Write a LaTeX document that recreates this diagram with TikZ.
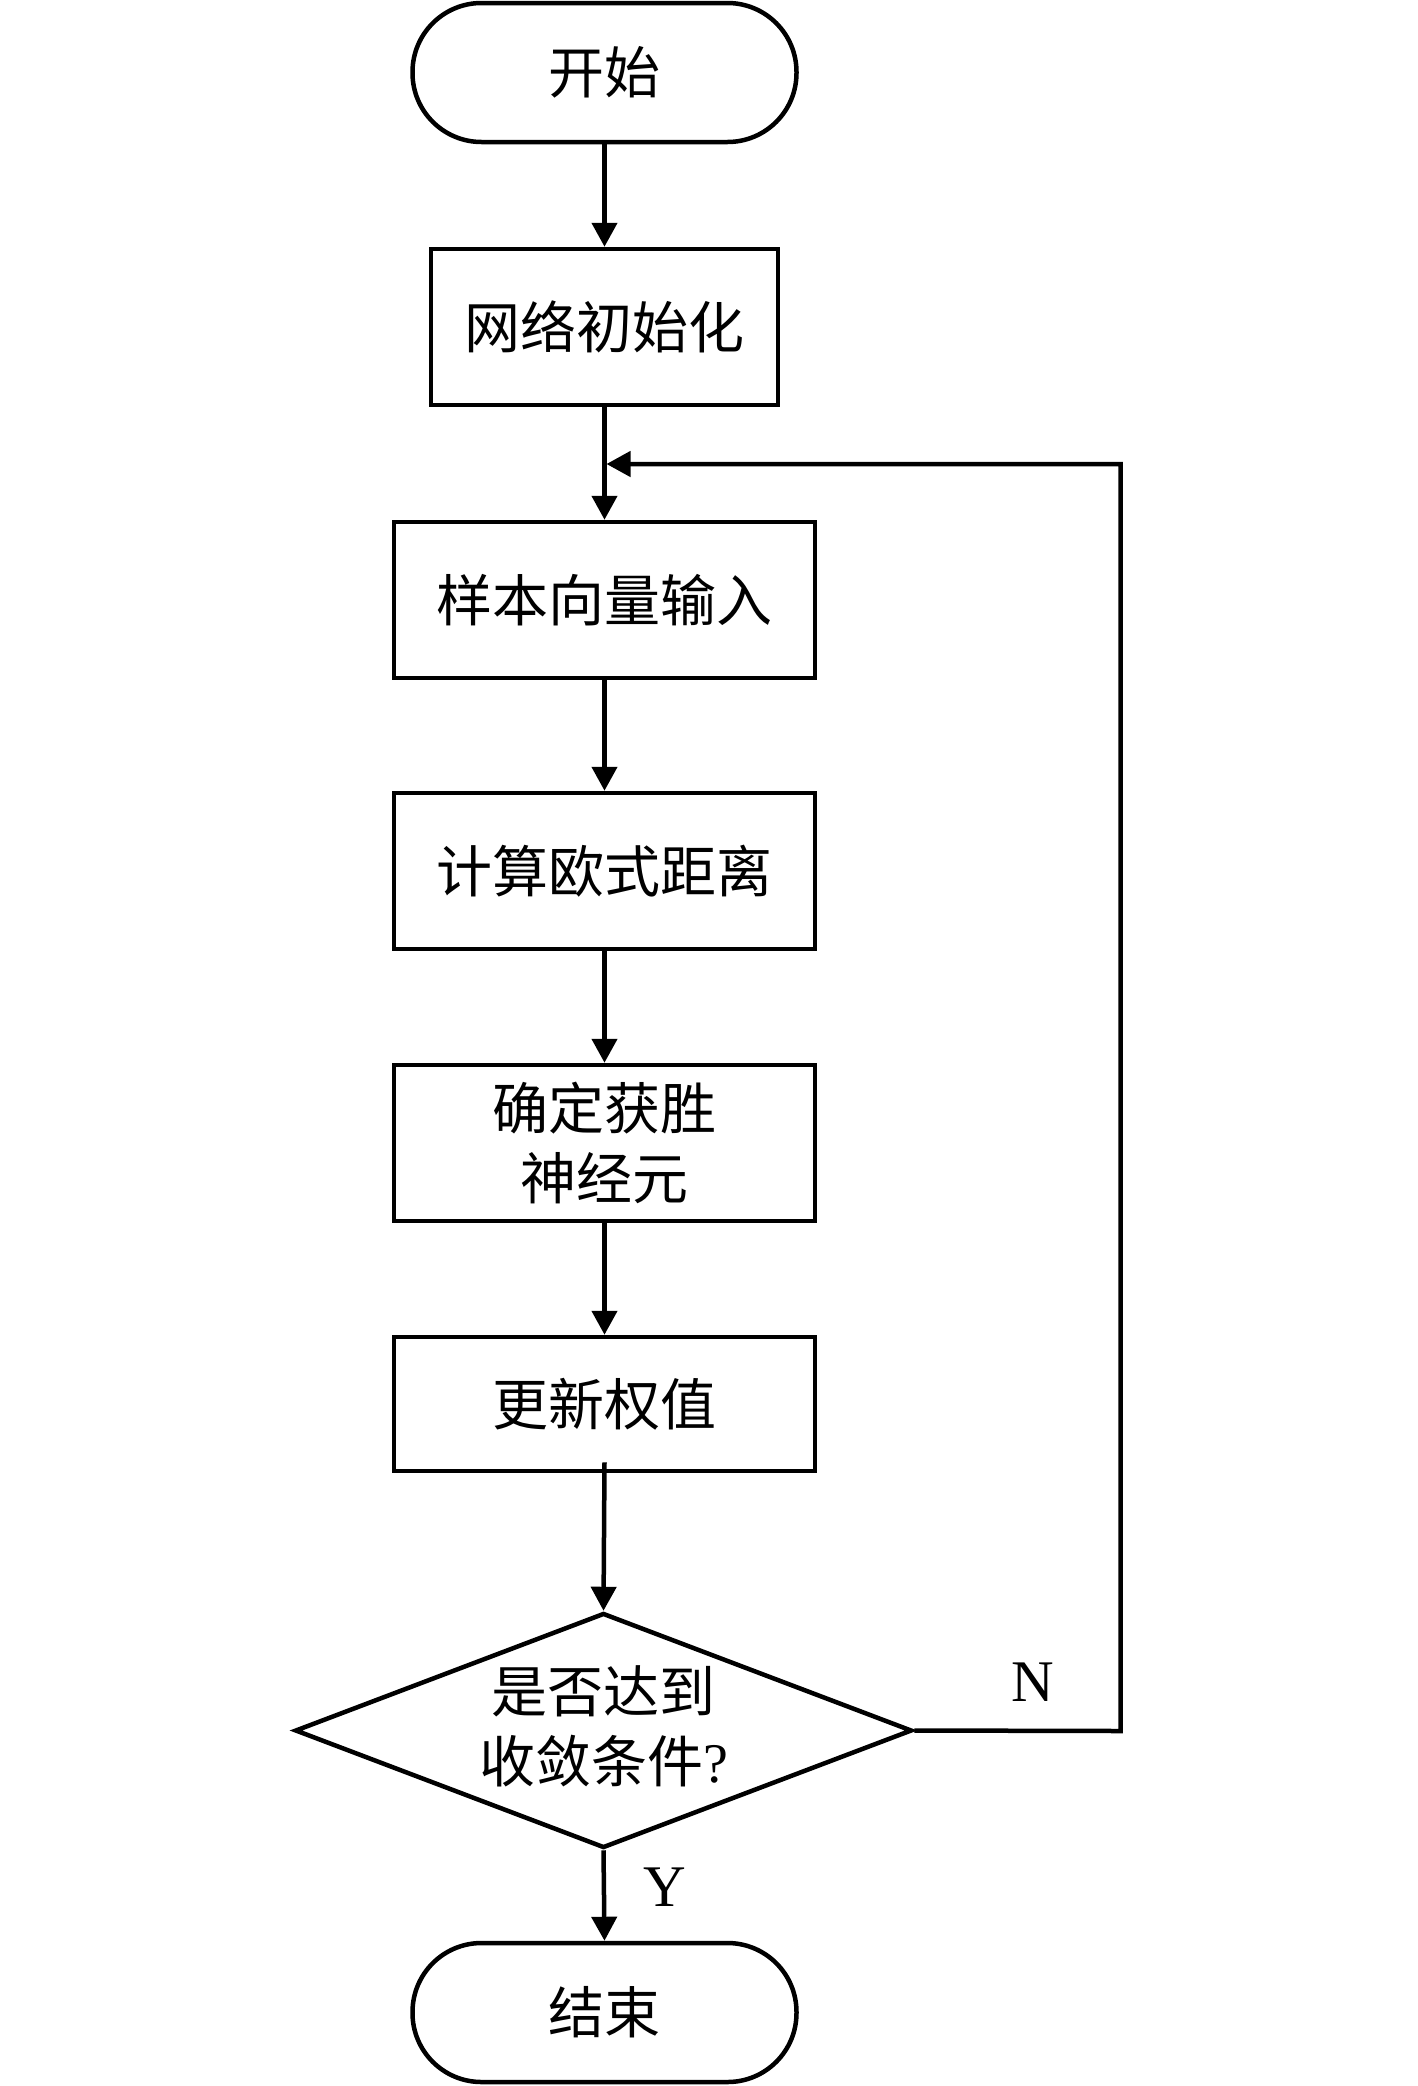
\documentclass[tikz,border=0pt]{standalone}
\usepackage{fontspec}
\setmainfont{Liberation Serif}
\newfontfamily\cjk{Noto Sans CJK SC}
\usetikzlibrary{arrows.meta,shapes.geometric}
\begin{document}
\begin{tikzpicture}[x=1pt,y=-1pt,
  box/.style={draw, line width=4.5pt, rectangle, inner sep=0pt, align=center,
    font=\cjk\fontsize{56}{70}\selectfont},
  term/.style={box, rounded corners=69pt},
  flow/.style={line width=4.5pt, -{Triangle[length=24pt,width=25pt]}},
  lab/.style={font=\rmfamily\fontsize{59}{70}\selectfont, inner sep=0pt}]
\useasboundingbox (0,0) rectangle (1417,2086);
\node[term, minimum width=384pt, minimum height=139pt] (start) at (604.5,72.5) {开始};
\node[box, minimum width=347pt, minimum height=156pt] (b1) at (604.5,327) {网络初始化};
\node[box, minimum width=421pt, minimum height=156pt] (b2) at (604.5,600) {样本向量输入};
\node[box, minimum width=421pt, minimum height=156pt] (b3) at (604.5,871) {计算欧式距离};
\node[box, minimum width=421pt, minimum height=156pt] (b4) at (604.5,1143) {确定获胜\\神经元};
\node[box, minimum width=421pt, minimum height=134pt] (b5) at (604.5,1404) {更新权值};
\node[draw, diamond, line width=4.5pt, inner sep=0pt, minimum width=617pt, minimum height=235pt] (d) at (603.5,1730.5) {};
\node[align=center, inner sep=0pt, font=\cjk\fontsize{56}{70}\selectfont] (dt) at (603.5,1726) {是否达到\\收敛条件{\rmfamily ?}};
\node[term, minimum width=384pt, minimum height=139pt] (end) at (604.5,2012.5) {结束};
\node[lab] (n) at (1033,1682) {N};
\node[lab] (y) at (665,1887) {Y};
\coordinate (nr) at (1120.5,1731);
\coordinate (nt) at (1120.5,464);
\coordinate (j) at (606.5,464);
\draw[flow] (start) -- (b1);
\draw[flow] (b1) -- (b2);
\draw[flow] (b2) -- (b3);
\draw[flow] (b3) -- (b4);
\draw[flow] (b4) -- (b5);
\draw[flow] ([yshift=11pt]b5.south) -- (d.north);
\draw[flow] (d.south) -- (end.north);
\draw[flow] (d.east) -- (nr) -- (nt) -- (j);
\end{tikzpicture}
\end{document}
